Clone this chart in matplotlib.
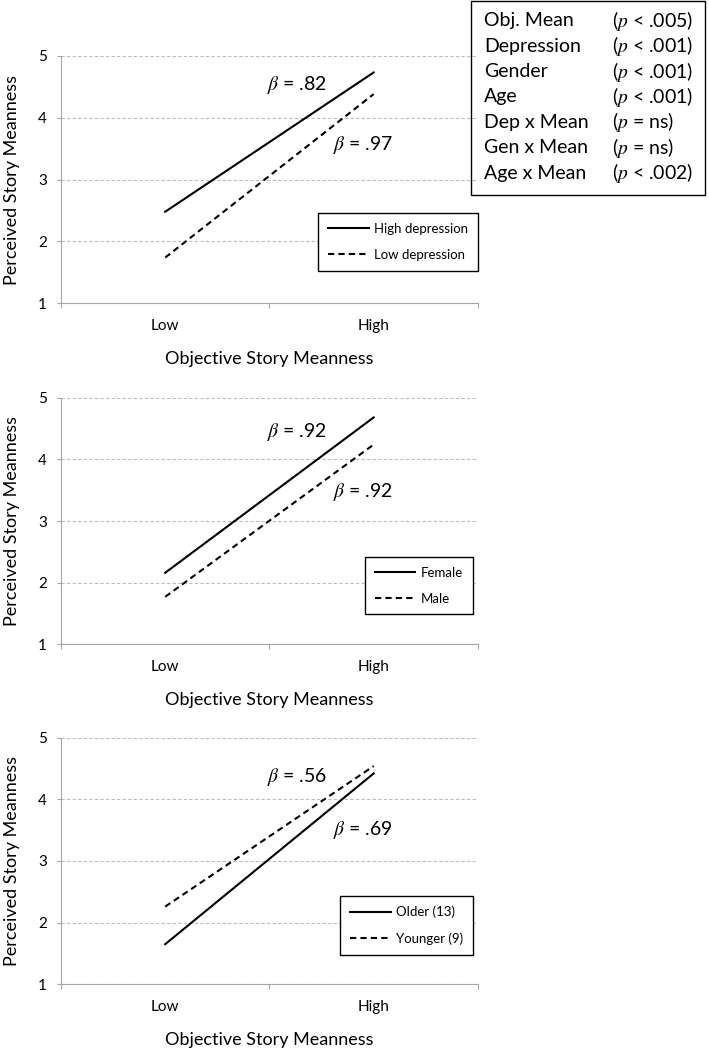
import matplotlib.pyplot as plt
from matplotlib.patches import Rectangle

plt.rcParams['font.family'] = ['Lato', 'DejaVu Sans']
plt.rcParams['mathtext.fontset'] = 'stix'

categories = ['Low', 'High']

# depression panel
dep_labels = ['High depression', 'Low depression']
dep_high = [2.48, 4.73]
dep_low = [1.74, 4.38]
dep_betas = ['.82', '.97']

# gender panel
gender_labels = ['Female', 'Male']
female = [2.16, 4.68]
male = [1.77, 4.24]
gender_betas = ['.92', '.92']

# age panel
age_labels = ['Older (13)', 'Younger (9)']
older = [1.65, 4.42]
younger = [2.26, 4.54]
age_betas = ['.56', '.69']

# model summary box
stat_names = ['Obj. Mean', 'Depression', 'Gender', 'Age',
              'Dep x Mean', 'Gen x Mean', 'Age x Mean']
stat_p = ['< .005', '< .001', '< .001', '< .001', '= ns', '= ns', '< .002']

AXIS_GRAY = '#a6a6a6'
GRID_GRAY = '#bdbdbd'


def draw_panel(ax, solid, dashed, labels, betas, beta_y, legend_anchor):
    x = [0.5, 1.5]
    ax.plot(x, solid, color='black', lw=1.5, label=labels[0], zorder=3)
    ax.plot(x, dashed, color='black', lw=1.5, ls=(0, (3, 2)),
            label=labels[1], zorder=3)

    ax.set_xlim(0, 2)
    ax.set_ylim(1, 5)
    ax.set_xticks(x, categories)
    ax.set_xticks([0, 1, 2], minor=True)
    ax.tick_params(axis='x', which='major', length=0, pad=11.5, labelsize=11)
    ax.tick_params(axis='x', which='minor', length=3.6, width=0.8, color=AXIS_GRAY)
    ax.set_yticks([1, 2, 3, 4, 5])
    ax.tick_params(axis='y', length=2.7, width=0.8, color=AXIS_GRAY, pad=7.5, labelsize=11)

    ax.yaxis.grid(True, ls=(0, (3, 2)), color=GRID_GRAY, lw=0.8)
    ax.set_axisbelow(True)
    for s in ['top', 'right']:
        ax.spines[s].set_visible(False)
    for s in ['left', 'bottom']:
        ax.spines[s].set_color(AXIS_GRAY)
        ax.spines[s].set_linewidth(0.8)

    ax.set_xlabel('Objective Story Meanness', fontsize=13)
    ax.xaxis.set_label_coords(0.5, -0.192)
    ax.set_ylabel('Perceived Story Meanness', fontsize=13)
    ax.yaxis.set_label_coords(-0.098, 0.5)

    # beta annotations
    ax.text(0.988, beta_y[0], r'$\beta$ = ' + betas[0], fontsize=14, ha='left', va='center')
    ax.text(1.305, beta_y[1], r'$\beta$ = ' + betas[1], fontsize=14, ha='left', va='center')

    leg = ax.legend(loc='upper right', bbox_to_anchor=legend_anchor, borderaxespad=0,
                    fontsize=9.5, fancybox=False, edgecolor='black', framealpha=1,
                    handlelength=3.1, handletextpad=0.4, labelspacing=1.05, borderpad=0.75)
    leg.get_frame().set_linewidth(1.0)


def main():
    fig = plt.figure(figsize=(7.09, 10.5), dpi=100)

    ax1 = fig.add_axes([0.086, 0.7111, 0.588, 0.2358])
    ax2 = fig.add_axes([0.086, 0.3864, 0.588, 0.2348])
    ax3 = fig.add_axes([0.086, 0.0626, 0.588, 0.2348])

    draw_panel(ax1, dep_high, dep_low, dep_labels, dep_betas, [4.53, 3.56], (1.0, 0.365))
    draw_panel(ax2, female, male, gender_labels, gender_betas, [4.45, 3.475], (0.988, 0.355))
    draw_panel(ax3, older, younger, age_labels, age_betas, [4.37, 3.50], (0.988, 0.358))

    # summary box at the top right
    fig.add_artist(Rectangle((0.664, 0.8143), 0.331, 0.1848, transform=fig.transFigure,
                             fill=False, ec='black', lw=1.0))
    for i, (name, p) in enumerate(zip(stat_names, stat_p)):
        y = 1 - (20.7 + i * 25.4) / 1050
        fig.text(0.6827, y, name, fontsize=14, va='center', ha='left')
        fig.text(0.863, y, '($p$ ' + p + ')', fontsize=14, va='center', ha='left')

    fig.savefig('out.png', dpi=100)


if __name__ == "__main__":
    main()
